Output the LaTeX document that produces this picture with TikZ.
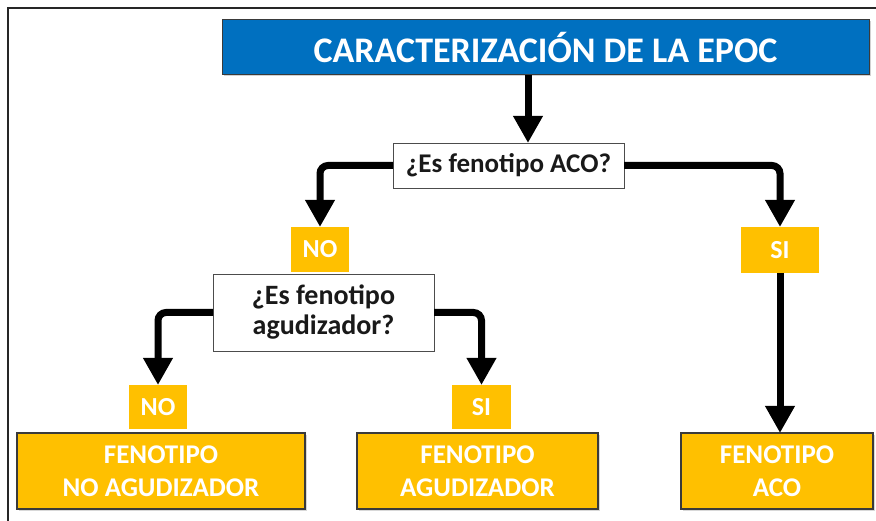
\documentclass[tikz,border=0pt]{standalone}
\usepackage{fontspec}
\setmainfont{Carlito}
\usetikzlibrary{arrows.meta,shadows}
\definecolor{epocblue}{HTML}{0070C0}
\definecolor{epocyellow}{HTML}{FFC000}
\definecolor{boxedge}{HTML}{3A3A3A}
\tikzset{
  titlebox/.style={draw=boxedge, line width=1pt, fill=epocblue, inner sep=0pt, outer sep=0pt,
    anchor=north west, text=white, font=\fontsize{36}{40}\selectfont\bfseries,
    drop shadow={shadow xshift=1.5pt, shadow yshift=-1.5pt, opacity=0.35}},
  qbox/.style={draw=black!70, line width=0.8pt, fill=white, inner sep=0pt, outer sep=0pt,
    anchor=north west, align=center, text=black!90, font=\fontsize{27}{30}\selectfont\bfseries},
  tagbox/.style={fill=epocyellow, inner sep=0pt, outer sep=0pt, anchor=north west,
    text=white, font=\fontsize{26}{28}\selectfont\bfseries},
  resbox/.style={draw=boxedge, line width=1.2pt, fill=epocyellow, inner sep=0pt, outer sep=0pt,
    anchor=north west, align=center, text=white, font=\fontsize{27}{33}\selectfont\bfseries,
    drop shadow={shadow xshift=1.5pt, shadow yshift=-1.5pt, opacity=0.3}},
  conn/.style={line width=7pt, rounded corners=8pt,
    -{Triangle[width=28pt,length=27pt]}},
  frameline/.style={line width=1.2pt, draw=black!85}
}
\begin{document}
\begin{tikzpicture}[x=1pt,y=-1pt]
\useasboundingbox (0,0) rectangle (876,521);
\fill[white] (0,0) rectangle (876,521);
% frame
\coordinate (fbl) at (8,521);
\coordinate (ftl) at (8,8);
\coordinate (ftr) at (876,8);
\draw[frameline] (fbl) -- (ftl) -- (ftr);
% nodes
\node[titlebox, minimum width=647pt, minimum height=55pt] (title) at (222,20) {CARACTERIZACIÓN DE LA EPOC};
\node[qbox, minimum width=231pt, minimum height=45pt] (q1) at (393,143) {¿Es fenotipo ACO?};
\node[tagbox, minimum width=58pt, minimum height=45pt] (no1) at (291,227) {NO};
\node[tagbox, minimum width=78pt, minimum height=46pt] (si1) at (741,227) {SI};
\node[qbox, font=\fontsize{28}{30}\selectfont\bfseries, minimum width=221pt, minimum height=77pt] (q2) at (213,274) {¿Es fenotipo\\agudizador?};
\node[tagbox, minimum width=58pt, minimum height=44pt] (no2) at (129,385) {NO};
\node[tagbox, minimum width=59pt, minimum height=44pt] (si2) at (452,385) {SI};
\node[resbox, minimum width=288pt, minimum height=76pt] (ra) at (17,433) {FENOTIPO\\NO AGUDIZADOR};
\node[resbox, minimum width=241pt, minimum height=76pt] (rb) at (357,433) {FENOTIPO\\AGUDIZADOR};
\node[resbox, minimum width=192pt, minimum height=76pt] (rc) at (681,433) {FENOTIPO\\ACO};
% connectors
\coordinate (tx) at (528,0);
\draw[conn] (title.south -| tx) -- (q1.north -| tx);
\draw[conn] (q1.west) -| (no1.north);
\draw[conn] (q1.east) -| (si1.north);
\draw[conn] (q2.west) -| (no2.north);
\draw[conn] (q2.east) -| (si2.north);
\draw[conn] (si1.south) -- (si1.south |- rc.north);
\end{tikzpicture}
\end{document}
